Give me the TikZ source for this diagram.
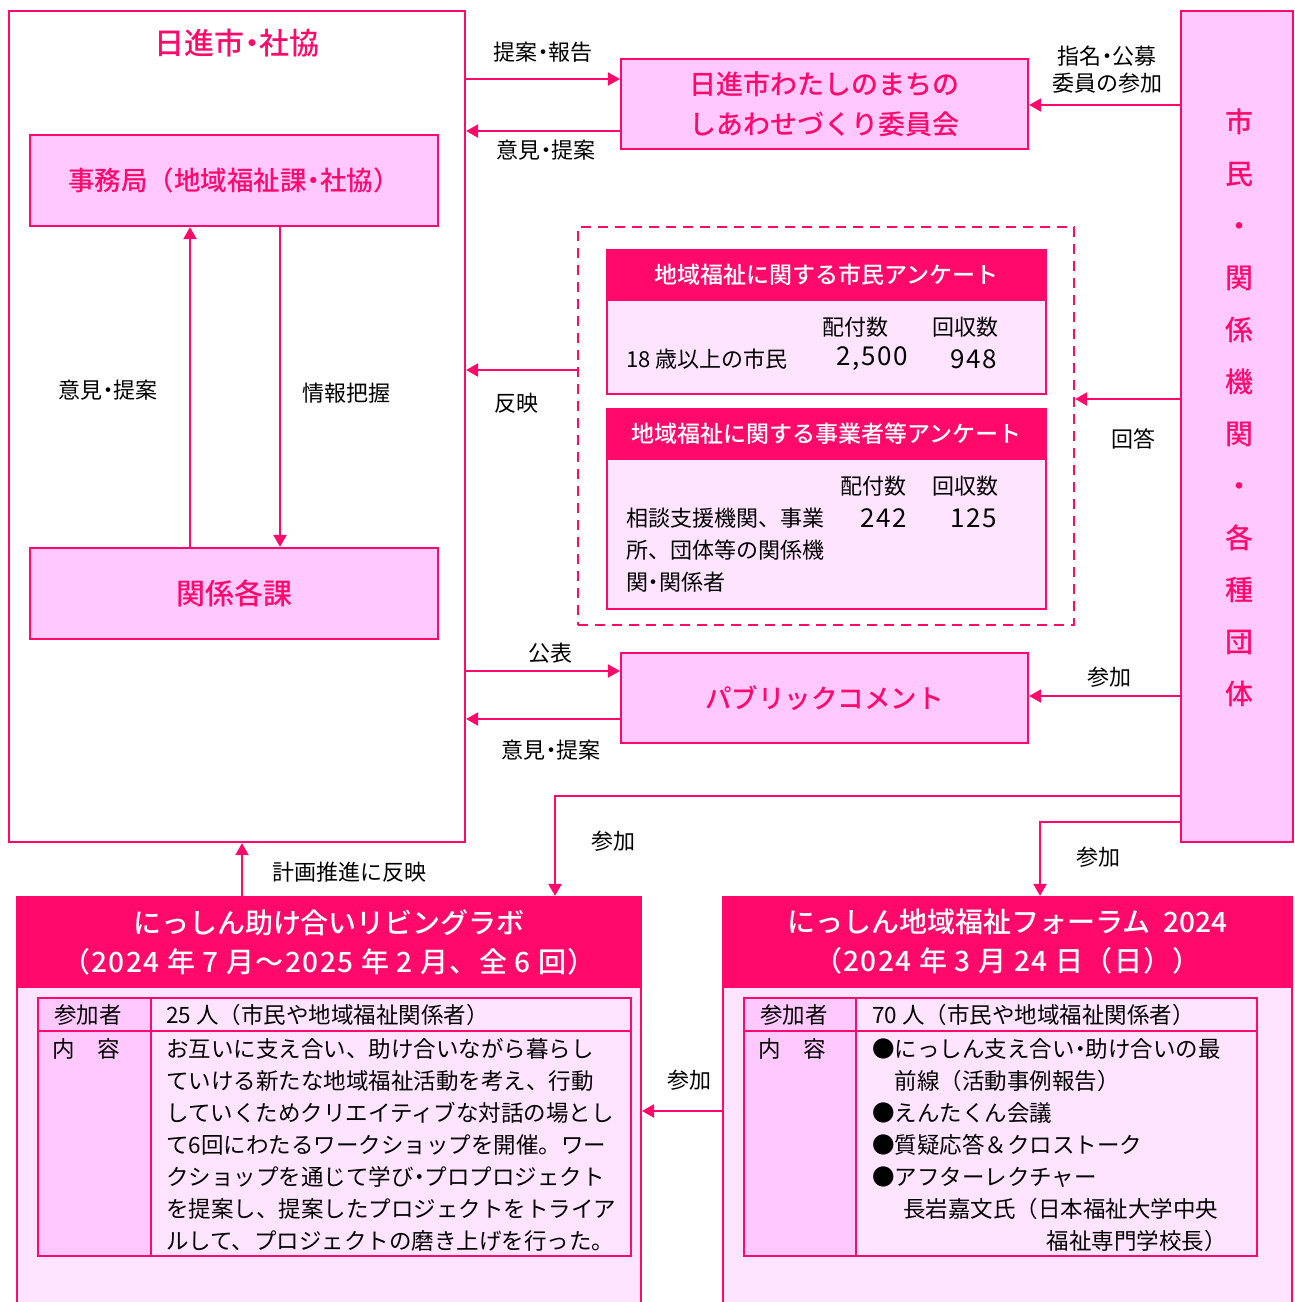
\documentclass[tikz,border=0pt]{standalone}
\usepackage{fontspec}
\setmainfont{Noto Sans CJK JP}
\newfontfamily\medfont{Noto Sans CJK JP Medium}
\usepackage{tikz}
\usetikzlibrary{arrows.meta}
\definecolor{linepink}{HTML}{FF0A6A}
\definecolor{boxpink}{HTML}{FFC8FF}
\definecolor{bodypink}{HTML}{FFE4FF}
\newcommand{\fsL}{\fontsize{22}{27}\selectfont}
\newcommand{\fsB}{\fontsize{22.5}{32}\selectfont}
\newcommand{\fsT}{\fontsize{27}{40}\selectfont}
\newcommand{\fsH}{\fontsize{28}{39}\selectfont}
\newcommand{\dt}{\makebox[0.5em][c]{・}}
\tikzset{
  outerbox/.style={draw=linepink, line width=2.2pt, inner sep=0pt},
  pbox/.style={draw=linepink, line width=2.2pt, fill=boxpink, inner sep=0pt},
  ptitle/.style={text=linepink, font=\fsT\medfont, align=center},
  headbox/.style={draw=linepink, fill=linepink, line width=2.2pt, text=white, align=center, inner sep=0pt},
  cellL/.style={draw=linepink, line width=2pt, fill=boxpink, inner sep=0pt},
  cellR/.style={draw=linepink, line width=2pt, fill=bodypink, inner sep=0pt},
  dashbox/.style={draw=linepink, line width=2.2pt, dash pattern=on 10pt off 7pt, inner sep=0pt},
  lbl/.style={font=\fsL, text=black, inner sep=0pt, align=center},
  body/.style={font=\fsB, text=black, inner sep=0pt, align=left},
  arr/.style={draw=linepink, line width=2.2pt, -{Triangle[length=12pt,width=13pt]}},
  conn/.style={draw=linepink, line width=2.2pt}
}
\begin{document}
\begin{tikzpicture}[x=1pt, y=-1pt]
\useasboundingbox (0,0) rectangle (1295,1302);

\node[outerbox, minimum width=456pt, minimum height=831pt] (city) at (237,426.5) {};
\node[ptitle, font=\fontsize{30}{36}\selectfont\medfont] (cityTitle) at (237,43) {日進市\dt 社協};
\node[pbox, minimum width=408pt, minimum height=91pt, ptitle, font=\fontsize{26.5}{32}\selectfont\medfont] (jimu) at (234,180.5) {事務局（地域福祉課\dt 社協）};
\node[pbox, minimum width=408pt, minimum height=91pt, ptitle, font=\fontsize{29}{36}\selectfont\medfont] (kakka) at (234,593.5) {関係各課};

\node[pbox, minimum width=407pt, minimum height=90pt, ptitle] (iinkai) at (824.5,104) {日進市わたしのまちの\\しあわせづくり委員会};
\node[pbox, minimum width=407pt, minimum height=90pt, ptitle, font=\fontsize{26.5}{32}\selectfont\medfont] (pubcom) at (824.5,698) {パブリックコメント};
\node[pbox, minimum width=112pt, minimum height=831pt] (shimin) at (1237,426.5) {};
\node[ptitle, font=\fontsize{28}{52}\selectfont\medfont] (shiminTxt) at (1239,407.5) {市\\民\\・\\関\\係\\機\\関\\・\\各\\種\\団\\体};

\node[dashbox, minimum width=496pt, minimum height=398pt] (survey) at (826,426) {};
\node[cellR, minimum width=439pt, minimum height=144pt] (svA) at (826.5,322) {};
\node[headbox, minimum width=439pt, minimum height=50pt, font=\fontsize{23}{28}\selectfont\medfont] (svAhead) at (826.5,275) {地域福祉に関する市民アンケート};
\node[lbl] (svAcolA) at (855,327) {配付数};
\node[lbl] (svAcolB) at (965,327) {回収数};
\node[lbl, anchor=west] (svArow) at (626,359) {18 歳以上の市民};
\node[lbl, font=\fontsize{26}{30}\selectfont\addfontfeature{LetterSpace=6}] (svAnumA) at (872,359) {2,500};
\node[lbl, font=\fontsize{26}{30}\selectfont\addfontfeature{LetterSpace=6}] (svAnumB) at (974,359) {948};

\node[cellR, minimum width=439pt, minimum height=200pt] (svB) at (826.5,509) {};
\node[headbox, minimum width=439pt, minimum height=50pt, font=\fontsize{23}{28}\selectfont\medfont] (svBhead) at (826.5,434) {地域福祉に関する事業者等アンケート};
\node[lbl] (svBcolA) at (873,486) {配付数};
\node[lbl] (svBcolB) at (965,486) {回収数};
\node[lbl, anchor=west, align=left, font=\fontsize{22}{32}\selectfont] (svBrow) at (626,550) {相談支援機関、事業\\所、団体等の関係機\\関\dt 関係者};
\node[lbl, font=\fontsize{26}{30}\selectfont\addfontfeature{LetterSpace=6}] (svBnumA) at (884,518) {242};
\node[lbl, font=\fontsize{26}{30}\selectfont\addfontfeature{LetterSpace=6}] (svBnumB) at (974,518) {125};

\node[cellR, minimum width=624pt, minimum height=413pt] (lab) at (329,1103.5) {};
\node[headbox, minimum width=624pt, minimum height=90pt, font=\fsH\medfont] (labhead) at (329,942) {にっしん助け合いリビングラボ\\{\addfontfeature{LetterSpace=5}（2024 年 7 月～2025 年 2 月、全 6 回）}};
\node[cellL, minimum width=113pt, minimum height=33pt] (labK1) at (94.5,1014.5) {};
\node[cellR, minimum width=480pt, minimum height=33pt] (labV1) at (391,1014.5) {};
\node[cellL, minimum width=113pt, minimum height=225pt] (labK2) at (94.5,1143.5) {};
\node[cellR, minimum width=480pt, minimum height=225pt] (labV2) at (391,1143.5) {};
\node[body] (labK1txt) at (88,1015) {参加者};
\node[body] (labK2txt) at (86,1049) {内　容};
\node[body, anchor=west] (labV1txt) at (166,1015) {25 人（市民や地域福祉関係者）};
\node[body, anchor=west] (labV2txt) at (166,1145) {お互いに支え合い、助け合いながら暮らし\\ていける新たな地域福祉活動を考え、行動\\していくためクリエイティブな対話の場とし\\て6回にわたるワークショップを開催。ワー\\クショップを通じて学び\dt プロプロジェクト\\を提案し、提案したプロジェクトをトライア\\ルして、プロジェクトの磨き上げを行った。};

\node[cellR, minimum width=569pt, minimum height=413pt] (forum) at (1007.5,1103.5) {};
\node[headbox, minimum width=569pt, minimum height=90pt, font=\fsH\medfont] (forumhead) at (1007.5,942) {にっしん地域福祉フォーラム\ \ 2024\\{\addfontfeature{LetterSpace=5}（2024 年 3 月 24 日（日））}};
\node[cellL, minimum width=112pt, minimum height=33pt] (forumK1) at (800,1014.5) {};
\node[cellR, minimum width=401pt, minimum height=33pt] (forumV1) at (1056.5,1014.5) {};
\node[cellL, minimum width=112pt, minimum height=225pt] (forumK2) at (800,1143.5) {};
\node[cellR, minimum width=401pt, minimum height=225pt] (forumV2) at (1056.5,1143.5) {};
\node[body] (forumK1txt) at (794,1015) {参加者};
\node[body] (forumK2txt) at (792,1049) {内　容};
\node[body, anchor=west] (forumV1txt) at (872,1015) {70 人（市民や地域福祉関係者）};
\node[body, anchor=west] (forumV2txt) at (872,1129) {●にっしん支え合い\dt 助け合いの最\\\hspace*{22.5pt}前線（活動事例報告）\\●えんたくん会議\\●質疑応答＆クロストーク\\●アフターレクチャー\\\hspace*{31pt}長岩嘉文氏（日本福祉大学中央};
\node[body, anchor=east] (forumEnd) at (1227,1241) {福祉専門学校長）};

\draw[arr] (city.east |- 0,79) -- (iinkai.west |- 0,79);
\draw[arr] (iinkai.west |- 0,131) -- (city.east |- 0,131);
\draw[arr] (shimin.west |- 0,105) -- (iinkai.east |- 0,105);
\draw[arr] (kakka.north -| 190,0) -- (jimu.south -| 190,0);
\draw[arr] (jimu.south -| 280,0) -- (kakka.north -| 280,0);
\draw[arr] (survey.west |- 0,370) -- (city.east |- 0,370);
\draw[arr] (shimin.west |- 0,399) -- (survey.east |- 0,399);
\draw[arr] (city.east |- 0,671) -- (pubcom.west |- 0,671);
\draw[arr] (pubcom.west |- 0,719) -- (city.east |- 0,719);
\draw[arr] (shimin.west |- 0,696) -- (pubcom.east |- 0,696);
\draw[arr] (shimin.west |- 0,796) -| (labhead.north -| 555,0);
\draw[arr] (shimin.west |- 0,822) -| (forumhead.north -| 1040,0);
\draw[arr] (labhead.north -| 242,0) -- (city.south -| 242,0);
\draw[arr] (forum.west |- 0,1111) -- (lab.east |- 0,1111);

\node[lbl] (lbTeian) at (543,52) {提案\dt 報告};
\node[lbl] (lbIken) at (546,150) {意見\dt 提案};
\node[lbl] (lbShimei) at (1107,70) {指名\dt 公募\\委員の参加};
\node[lbl] (lbIkenL) at (108,390) {意見\dt 提案};
\node[lbl] (lbJoho) at (346,393) {情報把握};
\node[lbl] (lbHanei) at (516,403) {反映};
\node[lbl] (lbKaito) at (1133,439) {回答};
\node[lbl] (lbKohyo) at (550,653) {公表};
\node[lbl] (lbIkenP) at (551,750) {意見\dt 提案};
\node[lbl] (lbSankaP) at (1109,677) {参加};
\node[lbl] (lbSankaL) at (613,841) {参加};
\node[lbl] (lbSankaF) at (1098,857) {参加};
\node[lbl] (lbKeikaku) at (349,872) {計画推進に反映};
\node[lbl] (lbSankaB) at (689,1080) {参加};
\end{tikzpicture}
\end{document}
